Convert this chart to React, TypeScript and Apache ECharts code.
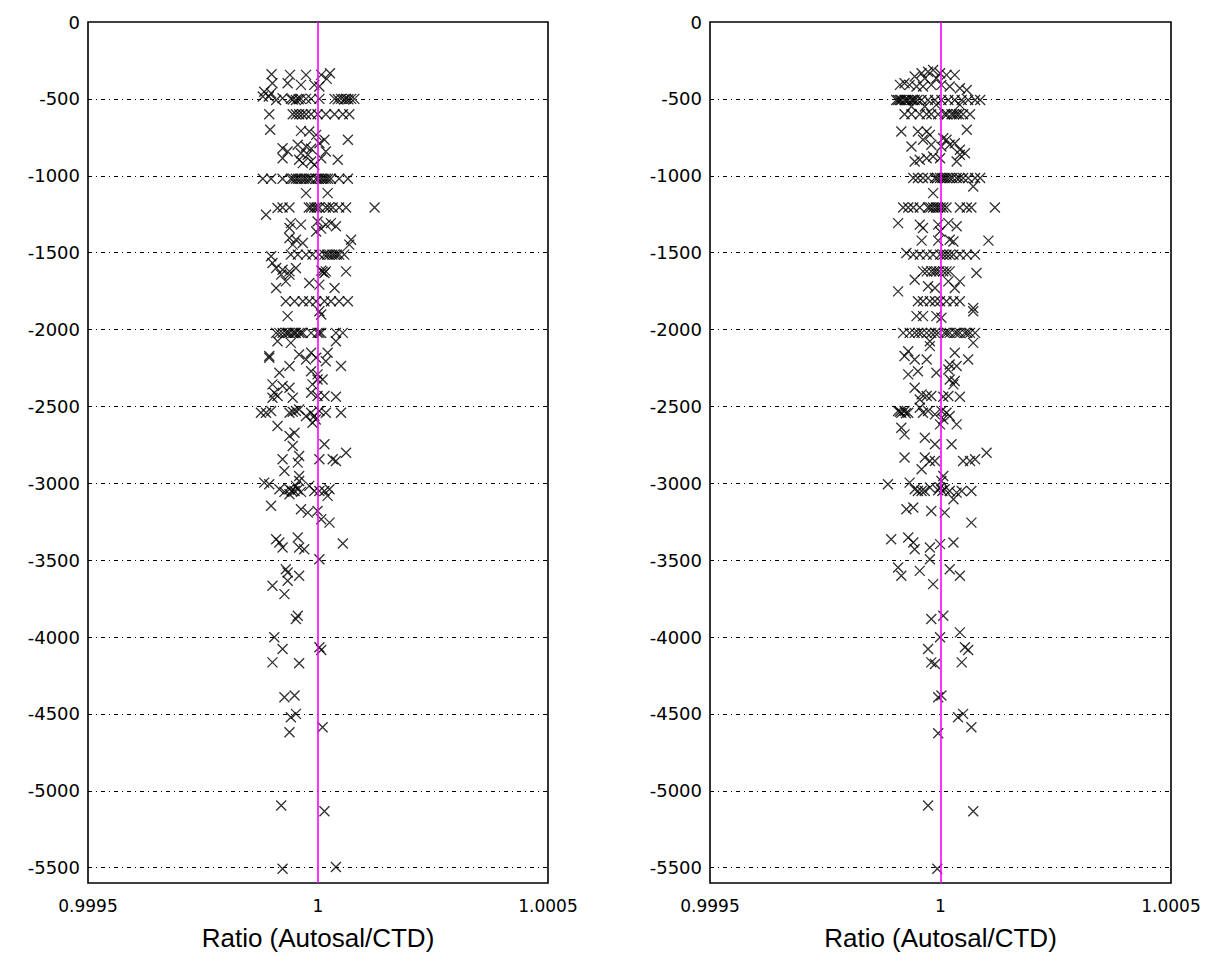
import React, { useEffect, useRef } from "react";
import * as echarts from "echarts";

// Tick values
const yTicks = [0, -500, -1000, -1500, -2000, -2500, -3000, -3500, -4000, -4500, -5000, -5500];
const gridTicks = [-500, -1000, -1500, -2000, -2500, -3000, -3500, -4000, -4500, -5000, -5500];
const xTicks = [0.9995, 1, 1.0005];
const xTitle = "Ratio (Autosal/CTD)";

// Left panel: [ratio, depth]
const leftUpper: [number, number][] = [
  [0.999899, -340], [0.999939, -344], [0.999974, -344], [1.000007, -344], [1.000026, -333], [1.000019, -370],
  [0.999901, -398], [0.999934, -398], [0.999963, -409], [0.999992, -409], [1.000003, -420],
  [0.999883, -453], [0.999898, -463], [0.99988, -485], [0.999893, -485], [0.999909, -507], [0.999923, -496],
  [0.999941, -500], [0.999952, -507], [0.999963, -500], [0.999974, -500], [0.999985, -500], [1.000003, -500],
  [1.000036, -500], [1.00005, -500], [1.000061, -500], [1.000072, -500], [1.000079, -500],
  [0.999945, -504], [0.999958, -502], [1.000043, -502], [1.000057, -504], [1.000066, -502],
  [0.999894, -600], [0.999945, -600], [0.999959, -600], [0.999974, -600], [0.999985, -600], [0.999999, -600],
  [1.000017, -600], [1.000036, -600], [1.000054, -600], [1.000068, -600], [0.999952, -600], [0.999966, -600],
  [0.999896, -701], [0.999963, -708], [0.999981, -712], [0.999996, -734], [1.000065, -766], [1.000014, -766],
  [1.000003, -788], [0.999923, -821], [0.999956, -799], [0.999974, -810], [0.999985, -825], [0.999934, -842],
  [0.999963, -853], [0.999978, -864], [1.000017, -842], [0.999923, -886], [0.999959, -896], [0.999985, -907],
  [1.000007, -886], [1.000043, -896], [0.999967, -918], [0.999992, -929],
  [0.99988, -1020], [0.999898, -1020], [0.999923, -1020], [0.999941, -1020], [0.999952, -1020], [0.999963, -1020],
  [0.999974, -1020], [0.999985, -1020], [0.999996, -1020], [1.000007, -1020], [1.000017, -1020], [1.000028, -1020],
  [1.000046, -1020], [1.000065, -1020], [0.999946, -1020], [0.999957, -1020], [0.999969, -1020], [0.99998, -1020],
  [1.000001, -1020], [1.000012, -1020], [1.000022, -1020],
  [0.999974, -1113], [1.000021, -1113],
  [0.999887, -1254], [0.999912, -1210], [0.999923, -1206], [0.999938, -1206], [0.999985, -1206], [0.999992, -1206],
  [1.000003, -1206], [1.000017, -1206], [1.000032, -1206], [1.000046, -1206], [1.000061, -1206], [1.000123, -1206],
  [0.99998, -1206], [0.999997, -1206], [1.000024, -1206],
  [0.999941, -1308], [0.999963, -1318], [0.999999, -1297], [1.000017, -1318], [1.000028, -1308], [1.000039, -1329],
  [0.999938, -1340], [1.000007, -1344], [0.999996, -1362], [0.999938, -1405], [0.999952, -1416], [0.999967, -1438],
  [1.000072, -1416], [0.999945, -1448], [1.000068, -1448],
  [0.999898, -1524], [0.999941, -1513], [0.999956, -1513], [0.999974, -1513], [0.999988, -1513], [1.000003, -1513],
  [1.000014, -1513], [1.000025, -1513], [1.000036, -1513], [1.000046, -1513], [1.000057, -1513],
  [1.00002, -1513], [1.000031, -1513], [1.000041, -1513],
  [0.999901, -1567], [0.999909, -1600], [0.999923, -1611], [0.999938, -1622], [0.999952, -1600], [1.000007, -1617],
  [1.000017, -1622], [1.000061, -1622], [0.99992, -1643], [0.999938, -1643], [1.000014, -1632], [1.00001, -1625],
  [0.999909, -1730], [0.999981, -1697], [1.000036, -1730], [0.99993, -1687], [1.000003, -1708],
  [0.99993, -1816], [0.999949, -1816], [0.999967, -1816], [0.999981, -1816], [0.999996, -1816], [1.000014, -1816],
  [1.000028, -1816], [1.000046, -1816], [1.000065, -1816],
];

const leftMiddle: [number, number][] = [
  [0.999934, -1913], [1.000007, -1902], [1.000003, -1881],
  [0.999909, -2022], [0.999916, -2022], [0.999923, -2022], [0.99993, -2022], [0.999938, -2022], [0.999945, -2022],
  [0.999952, -2022], [0.999959, -2022], [0.999967, -2022], [0.999985, -2022], [0.999999, -2022], [1.000007, -2022],
  [1.000039, -2022], [1.000054, -2022], [0.999934, -2022], [0.999949, -2022], [0.999963, -2022], [1.000003, -2022],
  [0.999912, -2076], [0.999941, -2087], [1.000039, -2076], [0.999894, -2173], [0.999894, -2184], [0.999959, -2162],
  [0.999974, -2195], [0.999985, -2151], [0.999996, -2184], [1.000021, -2151], [1.000017, -2206], [1.00005, -2238],
  [0.999938, -2238], [0.999916, -2281], [0.999985, -2271], [0.999999, -2292], [0.999999, -2325], [1.00001, -2325],
  [0.999988, -2357], [0.999901, -2357], [0.999923, -2368], [0.999938, -2379], [0.999905, -2411], [0.999912, -2433],
  [0.999945, -2444], [0.999985, -2411], [0.999999, -2433], [1.000014, -2433], [1.000039, -2437], [0.999901, -2444],
  [0.999876, -2541], [0.999887, -2541], [0.999898, -2530], [0.999938, -2541], [0.999952, -2530], [0.999959, -2520],
  [0.999974, -2563], [0.999985, -2541], [0.999992, -2563], [1.000003, -2530], [1.000017, -2541], [1.00005, -2541],
  [0.999945, -2535], [0.999995, -2585],
  [0.999988, -2606], [0.999912, -2628], [0.999938, -2693], [0.999949, -2671], [0.999945, -2758], [1.000014, -2747],
  [0.999923, -2844], [0.999959, -2823], [0.999956, -2866], [1.000003, -2844], [1.000032, -2844], [1.000039, -2855],
  [1.000061, -2801], [0.999927, -2920], [0.999959, -2953],
  [0.999883, -2996], [0.999894, -3007], [0.999916, -3039], [0.999927, -3056], [0.999938, -3039], [0.999949, -3050],
  [0.999959, -2985], [0.999963, -3056], [0.999952, -3017], [0.999981, -3017], [0.999992, -3050], [1.000003, -3050],
  [1.000014, -3050], [1.000025, -3039], [0.999938, -3072], [1.000021, -3082], [0.999943, -3050], [0.999956, -3040],
  [0.999898, -3147], [0.999963, -3169], [0.999978, -3191], [0.999999, -3180], [1.000007, -3234], [1.000025, -3256],
  [0.999909, -3364], [0.999916, -3386], [0.999923, -3418], [0.999956, -3353], [0.999959, -3418], [0.99997, -3429],
  [1.000054, -3392], [1.000003, -3494], [0.99993, -3559], [0.999934, -3580], [0.999959, -3602], [0.999934, -3634],
  [0.999901, -3667], [0.999927, -3721],
];

const leftLower: [number, number][] = [
  [0.999956, -3862], [0.999952, -3883], [0.999905, -4002], [1.000003, -4067], [1.000007, -4085], [0.999923, -4078],
  [0.999901, -4165], [0.999959, -4171], [0.999927, -4392], [0.999949, -4381], [0.999941, -4522], [0.999952, -4500],
  [1.00001, -4587], [0.999938, -4619], [0.99992, -5096], [1.000014, -5133], [0.999923, -5507], [1.000039, -5496],
];

// Right panel: [ratio, depth]
const rightUpper: [number, number][] = [
  [0.999944, -355], [0.999959, -333], [0.999973, -323], [0.999984, -312], [0.999999, -333], [1.000013, -344],
  [1.000031, -344], [0.999966, -366], [0.999991, -366], [0.999912, -409], [0.999922, -398], [0.999933, -409],
  [0.999948, -420], [0.999962, -420], [0.99998, -409], [1.000002, -409], [1.00002, -420], [1.000042, -431],
  [1.000057, -442],
  [0.999908, -507], [0.999915, -507], [0.999922, -507], [0.99993, -507], [0.999937, -507], [0.999944, -507],
  [0.999959, -507], [0.999973, -507], [0.999988, -507], [1.000002, -507], [1.000017, -507], [1.000031, -507],
  [1.000046, -507], [1.00006, -507], [1.000075, -507], [1.000086, -507],
  [0.999904, -507], [0.999912, -507], [0.999926, -507], [0.99994, -507], [0.99995, -507],
  [0.999937, -550], [0.999966, -550], [0.999991, -539], [1.000042, -539],
  [0.999922, -600], [0.999937, -600], [0.999955, -600], [0.99997, -600], [0.99998, -600], [0.999995, -600],
  [1.000009, -600], [1.000024, -600], [1.000035, -600], [1.000049, -600], [1.000064, -600],
  [1.000014, -600], [1.000029, -600], [1.00004, -600],
  [0.999915, -712], [0.999951, -712], [0.99997, -712], [0.999977, -734], [1.000057, -701], [1.000006, -756],
  [1.000013, -766], [0.999937, -810], [0.99998, -799], [1.000002, -810], [1.00002, -799], [1.000031, -788],
  [1.000042, -831], [0.999962, -766], [0.999955, -896], [0.99997, -886], [0.999984, -875], [0.999999, -886],
  [1.000042, -864], [1.000053, -853], [0.999944, -907], [1.000035, -907],
  [0.999941, -1015], [0.999951, -1015], [0.999962, -1015], [0.999973, -1015], [0.999988, -1015], [0.999999, -1015],
  [1.000009, -1015], [1.00002, -1015], [1.000035, -1015], [1.000049, -1015], [1.00006, -1015], [1.000075, -1015],
  [1.000086, -1015], [0.999993, -1015], [1.000004, -1015], [1.000014, -1015], [1.000026, -1015], [1.000041, -1015],
  [1.000071, -1070], [0.999984, -1113],
  [0.999919, -1206], [0.99993, -1206], [0.999941, -1206], [0.999955, -1206], [0.999973, -1206], [0.999984, -1206],
  [0.999995, -1206], [1.000006, -1206], [1.000013, -1206], [1.000042, -1206], [1.000057, -1206], [1.000067, -1206],
  [1.000118, -1206], [0.999978, -1206], [0.99999, -1206], [1.0, -1206],
  [0.999908, -1308], [0.999955, -1318], [0.999995, -1318], [1.000017, -1308], [1.000035, -1329], [0.999999, -1362],
  [0.999962, -1340], [0.999959, -1422], [0.999995, -1422], [1.00002, -1416], [1.000028, -1427], [1.000104, -1422],
  [0.999926, -1503], [0.999941, -1513], [0.999955, -1513], [0.99997, -1513], [0.999984, -1513], [0.999999, -1513],
  [1.000013, -1513], [1.000028, -1513], [1.000042, -1513], [1.000057, -1513], [1.000075, -1513],
  [1.000006, -1513], [1.00002, -1513],
  [0.99997, -1622], [0.99998, -1622], [0.999991, -1622], [1.000006, -1622], [1.00002, -1622], [1.000078, -1632],
  [0.999962, -1622], [0.999986, -1622], [0.999997, -1622], [1.000013, -1622],
  [0.999944, -1676], [0.999973, -1719], [0.999988, -1730], [1.000017, -1687], [1.000031, -1730], [1.000042, -1687],
  [0.999908, -1752],
  [0.999951, -1816], [0.999962, -1816], [0.999977, -1816], [0.999988, -1816], [0.999999, -1816], [1.000013, -1816],
  [1.000028, -1816], [1.000042, -1816], [1.000071, -1860],
];

const rightMiddle: [number, number][] = [
  [0.999948, -1913], [0.999962, -1913], [0.999991, -1913], [1.000002, -1924], [1.000071, -1881],
  [0.999919, -2022], [0.999933, -2022], [0.999944, -2022], [0.999959, -2022], [0.99997, -2022], [0.99998, -2022],
  [0.999995, -2022], [1.000009, -2022], [1.00002, -2022], [1.000031, -2022], [1.000042, -2022], [1.000053, -2022],
  [1.000064, -2022], [1.000075, -2022], [0.999952, -2022], [0.999988, -2022], [1.000014, -2022], [1.000036, -2022],
  [1.000058, -2022],
  [1.000071, -2087], [0.999977, -2076], [0.99993, -2141], [0.999922, -2173], [0.999944, -2195], [0.99997, -2195],
  [0.999977, -2108], [1.000031, -2151], [1.00006, -2195], [1.00002, -2227], [1.000035, -2238], [0.99993, -2292],
  [0.999951, -2271], [0.999991, -2281], [1.000017, -2260], [1.00002, -2325], [1.000031, -2335], [1.000028, -2357],
  [0.999944, -2379], [0.999959, -2422], [0.99997, -2433], [0.99998, -2433], [1.000006, -2437], [1.000017, -2433],
  [1.000042, -2437], [0.999955, -2455],
  [0.999908, -2530], [0.999915, -2541], [0.999922, -2530], [0.99993, -2541], [0.999955, -2509], [0.999962, -2541],
  [0.999973, -2530], [0.999988, -2552], [1.000002, -2530], [1.000013, -2541], [1.00002, -2563], [1.000006, -2584],
  [0.999912, -2535], [0.999925, -2545],
  [0.999915, -2639], [0.999922, -2682], [0.999999, -2617], [1.000035, -2617], [0.999966, -2704], [0.999988, -2747],
  [1.000024, -2747], [0.999922, -2833], [0.999966, -2833], [0.999977, -2855], [0.999988, -2855], [1.000049, -2855],
  [1.000064, -2855], [1.000075, -2844], [1.0001, -2801], [0.999959, -2909], [1.000006, -2953],
  [0.999886, -3007], [0.999933, -2996], [0.999944, -3039], [0.999951, -3050], [0.999959, -3050], [0.999966, -3050],
  [0.999977, -3028], [0.999999, -3028], [1.000009, -3039], [1.00002, -3050], [1.000035, -3061], [1.000046, -3050],
  [1.000067, -3050], [1.000002, -2985], [1.000028, -3104], [0.999995, -3045], [1.000004, -3050],
  [0.999926, -3169], [0.999941, -3158], [0.99998, -3180], [1.000009, -3191], [1.000067, -3256],
  [0.999893, -3364], [0.99993, -3353], [0.999941, -3386], [0.999977, -3418], [0.999999, -3396], [1.000028, -3386],
  [0.999944, -3429], [0.999977, -3494], [0.999908, -3548], [0.999915, -3602], [0.999955, -3570], [1.00002, -3559],
  [1.000042, -3602], [0.999984, -3656],
];

const rightLower: [number, number][] = [
  [0.99998, -3883], [1.000006, -3862], [1.000042, -3970], [0.999999, -4002], [0.999973, -4078], [1.000053, -4067],
  [1.00006, -4085], [0.99998, -4165], [0.999988, -4176], [1.000046, -4165], [0.999995, -4392], [1.000002, -4381],
  [1.000038, -4522], [1.000049, -4500], [1.000067, -4587], [0.999995, -4626], [0.999973, -5096], [1.000071, -5133],
  [0.999993, -5507],
];

const panels = [
  { data: [...leftUpper, ...leftMiddle, ...leftLower], left: 88, width: 460 },
  { data: [...rightUpper, ...rightMiddle, ...rightLower], left: 710, width: 461 },
];

const FONT = "'Liberation Sans', Arial, Helvetica, sans-serif";
const TICK_FONT = "'DejaVu Sans', 'Liberation Sans', sans-serif";
const CROSS = "path://M0,0L10,10M10,0L0,10";

export default function App() {
  const ref = useRef<HTMLDivElement>(null);
  useEffect(() => {
    if (!ref.current) return;
    const chart = echarts.init(ref.current, undefined, { renderer: "svg" });
    const grid = panels.map((p) => ({
      left: p.left,
      top: 22,
      width: p.width,
      height: 861,
      show: true,
      borderColor: "#000",
      borderWidth: 1.6,
      backgroundColor: "#fff",
    }));
    const xAxis = panels.map((_, i) => ({
      type: "value",
      gridIndex: i,
      min: 0.9995,
      max: 1.0005,
      axisLine: { show: false },
      axisTick: { show: false },
      splitLine: { show: false },
      axisLabel: {
        customValues: xTicks,
        showMinLabel: true,
        showMaxLabel: true,
        color: "#000",
        fontSize: 17,
        fontFamily: TICK_FONT,
        margin: 14,
        formatter: (v: number) => String(parseFloat(v.toFixed(4))),
      },
      name: xTitle,
      nameLocation: "middle",
      nameGap: 42,
      nameTextStyle: { color: "#000", fontSize: 26, fontFamily: FONT },
    }));
    const yAxis = panels.map((_, i) => ({
      type: "value",
      gridIndex: i,
      min: -5600,
      max: 0,
      axisLine: { show: false },
      axisTick: { show: false },
      splitLine: { show: false },
      axisLabel: {
        customValues: yTicks,
        color: "#000",
        fontSize: 18,
        fontFamily: TICK_FONT,
        margin: 8,
        formatter: (v: number) => String(v),
      },
    }));
    const series: any[] = [];
    panels.forEach((p, i) => {
      series.push({
        type: "scatter",
        xAxisIndex: i,
        yAxisIndex: i,
        data: p.data,
        symbol: CROSS,
        symbolSize: 10,
        itemStyle: { color: "rgba(0,0,0,0)", borderColor: "#000", borderWidth: 1.35 },
        z: 3,
        markLine: {
          silent: true,
          symbol: "none",
          label: { show: false },
          lineStyle: { color: "#000", type: [4, 4, 1, 4], width: 1.2 },
          data: gridTicks.map((v) => ({ yAxis: v })),
          z: 1,
        },
      });
      series.push({
        type: "scatter",
        xAxisIndex: i,
        yAxisIndex: i,
        data: [],
        z: 5,
        markLine: {
          silent: true,
          symbol: "none",
          label: { show: false },
          lineStyle: { color: "#ff00ff", type: "solid", width: 1.6 },
          data: [{ xAxis: 1 }],
          z: 5,
        },
      });
    });
    chart.setOption({
      animation: false,
      backgroundColor: "#fff",
      grid,
      xAxis,
      yAxis,
      series,
    });
    return () => chart.dispose();
  }, []);
  return (
    <div
      ref={ref}
      style={{ position: "fixed", left: 0, top: 0, width: 1212, height: 957, background: "#fff" }}
    />
  );
}
